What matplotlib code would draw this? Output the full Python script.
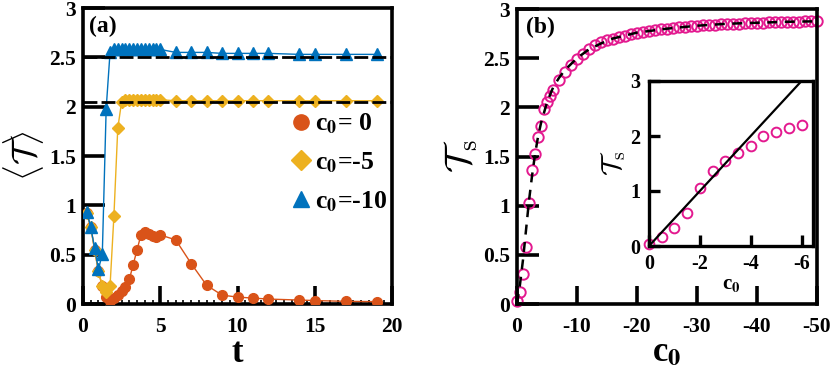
import numpy as np
import matplotlib
matplotlib.use("Agg")
import matplotlib.pyplot as plt
from matplotlib.lines import Line2D
from matplotlib.ticker import MultipleLocator

plt.rcParams['font.family'] = ['Liberation Serif', 'DejaVu Serif']
plt.rcParams['font.weight'] = 'bold'
plt.rcParams['axes.unicode_minus'] = False

# ---------------- data: panel (a) ----------------
t_early = [0.25, 0.5, 0.75, 1.0, 1.25, 1.5, 1.75, 2.0, 2.25, 2.5, 2.75, 3.0,
           3.25, 3.5, 3.75, 4.0, 4.25, 4.5, 4.75, 5.0]
t_late = [6, 7, 8, 9, 10, 11, 12, 14, 15, 17, 19]
t_vals = t_early + t_late

T_c0_0 = [0.92, 0.78, 0.55, 0.33, 0.18, 0.07, 0.03, 0.06, 0.09, 0.13, 0.17, 0.25,
          0.40, 0.55, 0.70, 0.73, 0.71, 0.69, 0.68, 0.70,
          0.65, 0.41, 0.19, 0.09, 0.07, 0.06, 0.05, 0.04, 0.035, 0.027, 0.024]
T_c0_m5 = [0.92, 0.78, 0.55, 0.33, 0.18, 0.12, 0.18, 0.89, 1.78, 2.05, 2.07, 2.07,
           2.07, 2.07, 2.07, 2.07, 2.07, 2.07, 2.07, 2.07,
           2.06, 2.06, 2.06, 2.06, 2.06, 2.06, 2.06, 2.06, 2.06, 2.06, 2.06]
T_c0_m10 = [0.93, 0.78, 0.57, 0.35, 0.51, 1.98, 2.55, 2.58, 2.58, 2.58, 2.58, 2.58,
            2.58, 2.58, 2.58, 2.58, 2.58, 2.58, 2.58, 2.58,
            2.55, 2.55, 2.55, 2.54, 2.54, 2.54, 2.54, 2.53, 2.53, 2.53, 2.53]
T_sat_m5 = 2.05
T_sat_m10 = 2.50
legend_labels = [r"c$_{\mathbf{0}}$= 0", r"c$_{\mathbf{0}}$=-5", r"c$_{\mathbf{0}}$=-10"]

# ---------------- data: panel (b) ----------------
c0_b = [0, -0.5, -1, -1.5, -2, -2.5, -3, -3.5, -4, -4.5, -5, -5.5, -6,
        -7, -8, -9, -10, -11, -12, -13, -14, -15, -16, -17, -18, -19, -20,
        -21, -22, -23, -24, -25, -26, -27, -28, -29, -30, -31, -32, -33, -34,
        -35, -36, -37, -38, -39, -40, -41, -42, -43, -44, -45, -46, -47, -48,
        -49, -50]
Ts_b = [0.03, 0.12, 0.31, 0.58, 1.03, 1.36, 1.53, 1.70, 1.81, 1.98, 2.05, 2.12, 2.18,
        2.28, 2.36, 2.43, 2.49, 2.54, 2.59, 2.63, 2.66, 2.68, 2.70, 2.72, 2.73, 2.75, 2.76,
        2.77, 2.78, 2.79, 2.795, 2.80, 2.81, 2.815, 2.82, 2.825, 2.83, 2.833, 2.836, 2.84, 2.843,
        2.846, 2.849, 2.852, 2.855, 2.857, 2.86, 2.862, 2.864, 2.866, 2.868, 2.87, 2.871, 2.872, 2.873,
        2.874, 2.875]
c0_fit = [0, -0.5, -1, -1.5, -2, -2.5, -3, -3.5, -4, -5, -6, -7, -8, -10, -12, -14,
          -16, -18, -20, -25, -30, -35, -40, -45, -50]
Ts_fit = [0, 0.2, 0.45, 0.75, 1.05, 1.3, 1.52, 1.7, 1.84, 2.05, 2.2, 2.3, 2.38, 2.5,
          2.59, 2.65, 2.7, 2.73, 2.76, 2.8, 2.83, 2.85, 2.86, 2.87, 2.875]

c0_in = [0, -0.5, -1, -1.5, -2, -2.5, -3, -3.5, -4, -4.5, -5, -5.5, -6]
Ts_in = [0.04, 0.16, 0.33, 0.60, 1.05, 1.37, 1.55, 1.70, 1.82, 2.00, 2.07, 2.14, 2.20]
c0_line = [0, -6]
Ts_line = [0, 3]

orange = '#D95319'
yellow = '#EDB120'
blue = '#0072BD'
magenta = '#E3198F'

W, H = 831, 372
fig = plt.figure(figsize=(W / 100, H / 100), dpi=100)

def style_axes(ax, lw=2.6):
    for s in ax.spines.values():
        s.set_linewidth(lw)
        s.set_color('black')

TICK_FS = 15.5

# ---------------- panel (a) ----------------
axa = fig.add_axes([83 / W, 1 - 304 / H, (392 - 83) / W, (304 - 8) / H])
style_axes(axa)
axa.plot(t_vals, T_c0_0, '-o', color=orange, ms=7, lw=1, mec=orange, zorder=3)
axa.plot(t_vals, T_c0_m5, '-D', color=yellow, ms=6.5, lw=1, mec=yellow, zorder=3)
axa.plot(t_vals, T_c0_m10, '-^', color=blue, ms=8, lw=1, mec=blue, zorder=3)
axa.axhline(T_sat_m10, color='black', lw=2, ls=(0, (5, 1.5)), zorder=4)
axa.axhline(T_sat_m5, color='black', lw=2, ls=(0, (5, 1.5)), zorder=4)
axa.set_xlim(0, 20)
axa.set_ylim(0, 3)
axa.set_xticks([0, 5, 10, 15, 20])
axa.set_yticks([0, 0.5, 1, 1.5, 2, 2.5, 3])
axa.set_yticklabels(['0', '0.5', '1', '1.5', '2', '2.5', '3'])
axa.xaxis.set_minor_locator(MultipleLocator(0.5))
axa.tick_params(which='major', direction='in', length=13, width=2.6, labelsize=TICK_FS)
axa.tick_params(axis='x', pad=9)
axa.tick_params(axis='y', length=16, pad=5)
axa.tick_params(which='minor', axis='x', direction='in', length=3, width=1.2)
axa.tick_params(which='minor', axis='y', length=0)
for lab in axa.get_xticklabels() + axa.get_yticklabels():
    lab.set_fontweight('bold')
axa.set_xlabel('t', fontsize=25, fontweight='bold', labelpad=0)
axa.set_ylabel(r'$\langle\mathcal{T}\rangle$', fontsize=25, labelpad=2,
               math_fontfamily='cm')
axa.text(0.02, 0.975, '(a)', transform=axa.transAxes, fontsize=17,
         fontweight='bold', va='top', ha='left')
handles = [Line2D([], [], ls='none', marker='o', color=orange, ms=11),
           Line2D([], [], ls='none', marker='D', color=yellow, ms=10),
           Line2D([], [], ls='none', marker='^', color=blue, ms=12)]
leg = axa.legend(handles, legend_labels, loc='upper left',
                 bbox_to_anchor=(0.64, 0.685), frameon=False, handlelength=0.8,
                 handletextpad=0.15, labelspacing=0.55, borderaxespad=0,
                 prop={'family': 'Liberation Serif', 'weight': 'bold', 'size': 18.5,
                       'math_fontfamily': 'stix'})

# ---------------- panel (b) ----------------
axb = fig.add_axes([517 / W, 1 - 304 / H, (817 - 517) / W, (304 - 9) / H])
style_axes(axb)
axb.plot(c0_fit, Ts_fit, color='black', lw=1.8, ls=(0, (4, 3)), zorder=3)
axb.plot(c0_b, Ts_b, ls='none', marker='o', ms=7.5, mfc='none', mec=magenta,
         mew=1.4, zorder=2, clip_on=False)
axb.set_xlim(0, -50)
axb.set_ylim(0, 3)
axb.set_xticks([0, -10, -20, -30, -40, -50])
axb.set_yticks([0, 0.5, 1, 1.5, 2, 2.5, 3])
axb.set_yticklabels(['0', '0.5', '1', '1.5', '2', '2.5', '3'])
axb.tick_params(which='major', direction='in', length=13, width=2.6, labelsize=TICK_FS)
axb.tick_params(axis='x', pad=9)
axb.tick_params(axis='y', length=16, pad=5)
for lab in axb.get_xticklabels() + axb.get_yticklabels():
    lab.set_fontweight('bold')
axb.set_xlabel(r'c$_{\mathbf{0}}$', fontsize=25, fontweight='bold', labelpad=0,
               math_fontfamily='stix')
axb.set_ylabel(r'$\mathcal{T}_{\mathrm{s}}$', fontsize=27, labelpad=2,
               math_fontfamily='cm')
axb.text(0.03, 0.975, '(b)', transform=axb.transAxes, fontsize=17,
         fontweight='bold', va='top', ha='left')

# ---------------- inset ----------------
axi = fig.add_axes([649 / W, 1 - 246 / H, (813 - 649) / W, (246 - 81) / H])
style_axes(axi, lw=2.4)
axi.plot(c0_line, Ts_line, color='black', lw=1.6, zorder=3)
axi.plot(c0_in, Ts_in, ls='none', marker='o', ms=7, mfc='none', mec=magenta,
         mew=1.4, zorder=2, clip_on=False)
axi.set_xlim(0, -6.45)
axi.set_ylim(0, 3)
axi.set_xticks([0, -2, -4, -6])
axi.set_yticks([0, 1, 2, 3])
axi.tick_params(which='major', direction='in', length=8, width=2.4, labelsize=14.5, pad=6)
for lab in axi.get_xticklabels() + axi.get_yticklabels():
    lab.set_fontweight('bold')
axi.set_xlabel(r'c$_{\mathbf{0}}$', fontsize=15, fontweight='bold', labelpad=0,
               math_fontfamily='stix')
axi.set_ylabel(r'$\mathcal{T}_{\mathrm{s}}$', fontsize=20, labelpad=2,
               math_fontfamily='cm')

fig.savefig('out.png', dpi=100)
